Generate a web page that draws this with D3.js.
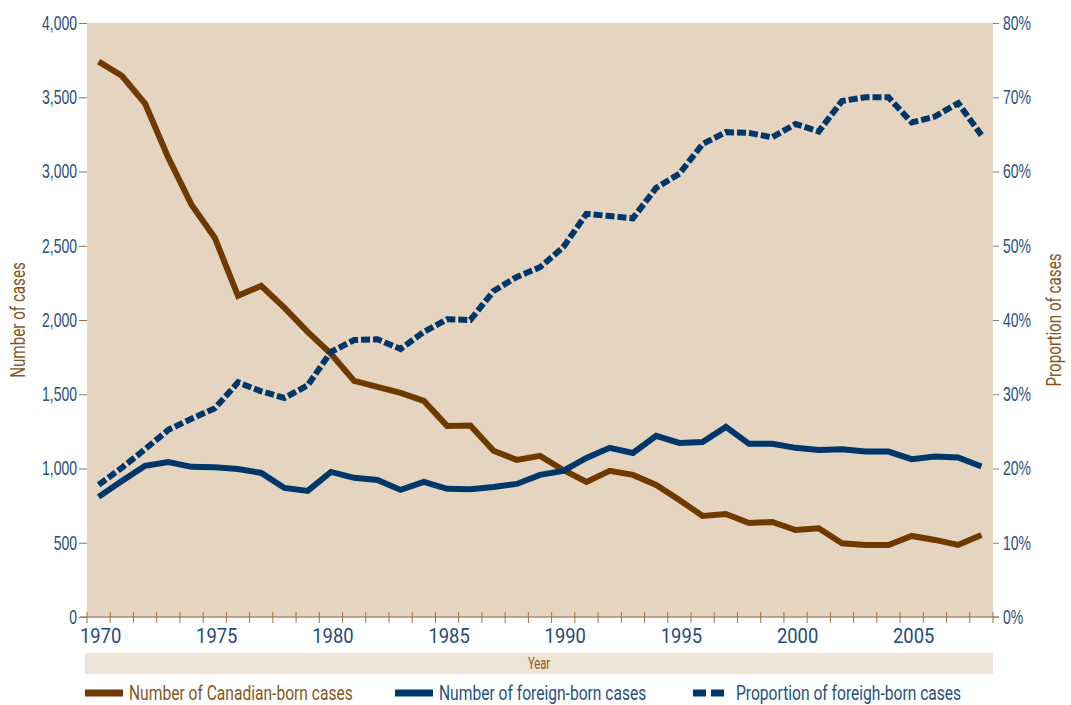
<!DOCTYPE html>
<html lang="en">
<head>
  <meta charset="UTF-8" />
  <title>Canadian-born and foreign-born cases, 1970-2008</title>
  <style>
    body {
      margin: 0;
      background-color: #fff;
      font-family: "Roboto", Arial, sans-serif;
    }

    svg {
      display: block;
    }

    .tick text {
      fill: #28507f;
      font-size: 20px;
    }
  </style>
</head>
<body>
  <svg width="1071" height="705"></svg>

  <script src="https://cdnjs.cloudflare.com/ajax/libs/d3/7.8.5/d3.min.js"></script>
  <script>
    // Data
    const years = d3.range(1970, 2009);

    const canadianBorn = [
      3740, 3645, 3457, 3093, 2776, 2554, 2163, 2230, 2082, 1920,
      1772, 1590, 1550, 1509, 1455, 1287, 1290, 1119, 1058, 1085,
      990, 910, 984, 957, 889, 788, 680, 694, 633, 640,
      586, 598, 497, 485, 485, 546, 519, 485, 553
    ];

    const foreignBorn = [
      809, 916, 1018, 1044, 1011, 1009, 997, 970, 869, 849,
      977, 937, 923, 856, 910, 863, 860, 876, 896, 957,
      984, 1071, 1139, 1105, 1220, 1172, 1179, 1280, 1166, 1166,
      1139, 1125, 1130, 1114, 1114, 1063, 1080, 1074, 1013
    ];

    const proportionForeign = [
      17.8, 20.1, 22.6, 25.2, 26.7, 28.1, 31.6, 30.4, 29.5, 31.2,
      35.7, 37.3, 37.4, 36.1, 38.4, 40.1, 40.0, 43.9, 45.8, 47.1,
      49.8, 54.3, 54.0, 53.7, 57.8, 59.7, 63.7, 65.3, 65.2, 64.6,
      66.4, 65.4, 69.5, 70.0, 70.0, 66.6, 67.4, 69.2, 64.9
    ];

    const leftTicks = [0, 500, 1000, 1500, 2000, 2500, 3000, 3500, 4000];
    const rightTicks = [0, 10, 20, 30, 40, 50, 60, 70, 80];
    const yearLabels = [1970, 1975, 1980, 1985, 1990, 1995, 2000, 2005];

    const brown = "#6f3a00";
    const navy = "#00376a";
    const titleBrown = "#87561d";

    // the original uses a condensed face; squeeze Roboto horizontally
    const squeeze = 0.7;

    const plot = { left: 87, right: 993, top: 23, bottom: 617 };

    const svg = d3.select("svg");

    const x = d3.scaleBand()
      .domain(years)
      .range([plot.left, plot.right])
      .padding(0);

    const xc = d => x(d) + x.bandwidth() / 2;

    const yLeft = d3.scaleLinear().domain([0, 4000]).range([plot.bottom, plot.top]);
    const yRight = d3.scaleLinear().domain([0, 80]).range([plot.bottom, plot.top]);

    // plot background
    svg.append("rect")
      .attr("x", plot.left)
      .attr("y", plot.top)
      .attr("width", plot.right - plot.left)
      .attr("height", plot.bottom - plot.top)
      .attr("fill", "#e5d4c0");

    // left axis
    const leftAxis = svg.append("g")
      .attr("transform", `translate(${plot.left},0)`)
      .call(d3.axisLeft(yLeft)
        .tickValues(leftTicks)
        .tickSize(8)
        .tickFormat(d3.format(",")));
    leftAxis.select(".domain").remove();
    leftAxis.selectAll(".tick line").attr("stroke", "#9c7147");
    leftAxis.selectAll(".tick text")
      .attr("x", null)
      .attr("transform", `translate(-10,0) scale(${squeeze},1)`);

    // right axis
    const rightAxis = svg.append("g")
      .attr("transform", `translate(${plot.right},0)`)
      .call(d3.axisRight(yRight)
        .tickValues(rightTicks)
        .tickSize(6)
        .tickFormat(d => d + "%"));
    rightAxis.select(".domain").remove();
    rightAxis.selectAll(".tick line").attr("stroke", "#6d86a6");
    rightAxis.selectAll(".tick text")
      .attr("x", null)
      .attr("transform", `translate(10,0) scale(${squeeze},1)`);

    // bottom axis: ticks at category boundaries, labels every 5 years
    const bottom = svg.append("g");
    bottom.append("line")
      .attr("x1", plot.left - 7)
      .attr("x2", plot.right + 6)
      .attr("y1", plot.bottom)
      .attr("y2", plot.bottom)
      .attr("stroke", "#b08b62")
      .attr("stroke-width", 1.5);

    bottom.selectAll(".xtick")
      .data(years.concat([2009]))
      .join("line")
      .attr("class", "xtick")
      .attr("x1", d => d === 2009 ? plot.right : x(d))
      .attr("x2", d => d === 2009 ? plot.right : x(d))
      .attr("y1", plot.bottom - 5)
      .attr("y2", plot.bottom + 6)
      .attr("stroke", "#9c7147")
      .attr("stroke-width", 1);

    bottom.selectAll(".xlabel")
      .data(yearLabels)
      .join("text")
      .attr("class", "xlabel")
      .attr("transform", d => `translate(${xc(d) + 2},${plot.bottom + 26}) scale(0.92,1)`)
      .attr("text-anchor", "middle")
      .attr("fill", "#1f4a7c")
      .attr("font-size", "20px")
      .text(d => d);

    // Year band
    svg.append("rect")
      .attr("x", 85)
      .attr("y", 653)
      .attr("width", plot.right - 85)
      .attr("height", 21)
      .attr("fill", "#efe3d7");

    svg.append("text")
      .attr("transform", `translate(${(85 + plot.right) / 2},669) scale(${squeeze},1)`)
      .attr("text-anchor", "middle")
      .attr("fill", "#8a5a24")
      .attr("font-size", "16px")
      .text("Year");

    // axis titles
    svg.append("text")
      .attr("transform", `translate(25,${(plot.top + plot.bottom) / 2}) rotate(-90) scale(0.76,1)`)
      .attr("text-anchor", "middle")
      .attr("fill", titleBrown)
      .attr("font-size", "20px")
      .text("Number of cases");

    svg.append("text")
      .attr("transform", `translate(1061,${(plot.top + plot.bottom) / 2}) rotate(-90) scale(0.76,1)`)
      .attr("text-anchor", "middle")
      .attr("fill", titleBrown)
      .attr("font-size", "20px")
      .text("Proportion of cases");

    // lines
    const lineLeft = d3.line()
      .x((d, i) => xc(years[i]))
      .y(d => yLeft(d));

    const lineRight = d3.line()
      .x((d, i) => xc(years[i]))
      .y(d => yRight(d));

    svg.append("path")
      .datum(canadianBorn)
      .attr("fill", "none")
      .attr("stroke", brown)
      .attr("stroke-width", 6)
      .attr("d", lineLeft);

    svg.append("path")
      .datum(foreignBorn)
      .attr("fill", "none")
      .attr("stroke", navy)
      .attr("stroke-width", 6)
      .attr("d", lineLeft);

    svg.append("path")
      .datum(proportionForeign)
      .attr("fill", "none")
      .attr("stroke", navy)
      .attr("stroke-width", 6)
      .attr("stroke-dasharray", "9,3")
      .attr("d", lineRight);

    // legend
    const legend = [
      { label: "Number of Canadian-born cases", color: brown, text: titleBrown, x: 85, dash: null },
      { label: "Number of foreign-born cases", color: navy, text: "#28507f", x: 395, dash: null },
      { label: "Proportion of foreigh-born cases", color: navy, text: "#28507f", x: 693, dash: "13,5" }
    ];

    const lg = svg.append("g")
      .selectAll("g")
      .data(legend)
      .join("g")
      .attr("transform", d => `translate(${d.x},693)`);

    lg.append("line")
      .attr("x1", 0)
      .attr("x2", d => d.dash ? 35 : 38)
      .attr("y1", 0)
      .attr("y2", 0)
      .attr("stroke", d => d.color)
      .attr("stroke-width", 7)
      .attr("stroke-dasharray", d => d.dash);

    lg.append("text")
      .attr("transform", d => `translate(${d.dash ? 43 : 44},7) scale(0.78,1)`)
      .attr("fill", d => d.text)
      .attr("font-size", "20px")
      .text(d => d.label);
  </script>
</body>
</html>
